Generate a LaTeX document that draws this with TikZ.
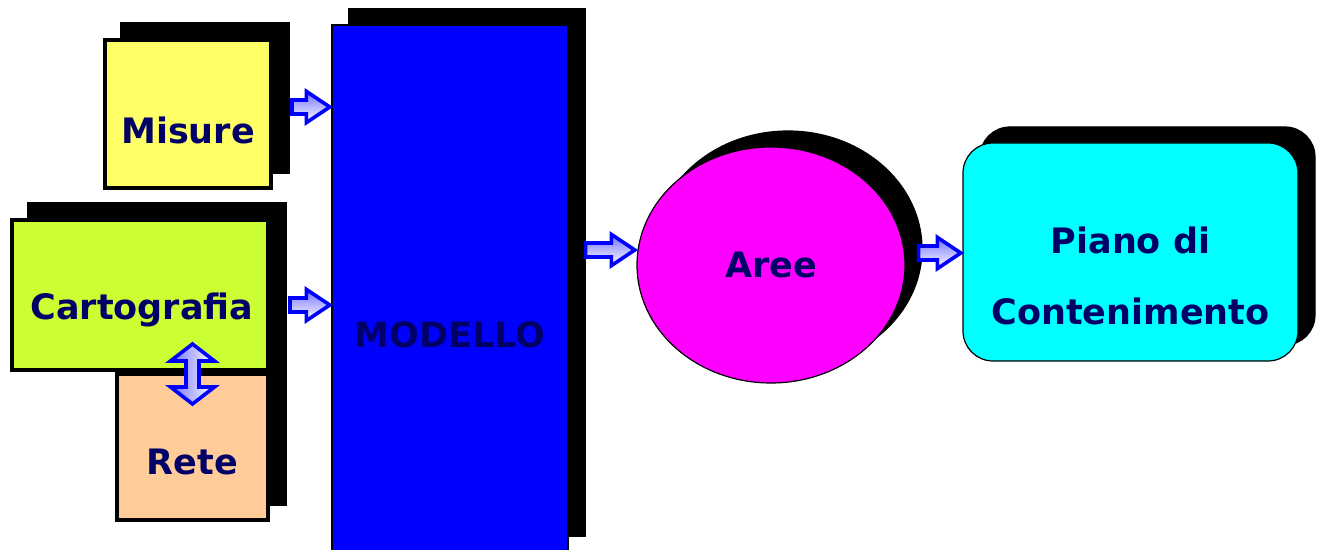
\documentclass[tikz,border=0pt]{standalone}
\usepackage{fontspec}
\setmainfont{DejaVu Sans}
\usetikzlibrary{calc,shadows,shapes.geometric}
\definecolor{cyel}{HTML}{FFFF66}
\definecolor{cgreen}{HTML}{CCFF33}
\definecolor{cpeach}{HTML}{FFCC99}
\definecolor{cblue}{HTML}{0000FF}
\definecolor{cmag}{HTML}{FF00FF}
\definecolor{ccyan}{HTML}{00FFFF}
\definecolor{cnavy}{HTML}{000066}
\tikzset{
  blk/.style={general shadow={fill=black, draw=black, shadow xshift=8.5pt, shadow yshift=8pt}},
  thickbox/.style={draw=black, line width=2pt, blk, inner sep=0pt},
  thinbox/.style={draw=black, line width=0.6pt, blk, inner sep=0pt},
  lbl/.style={text=cnavy, font=\bfseries\fontsize{17.5}{20}\selectfont, inner sep=0pt},
  blockarrow/.style={draw=cblue, line width=1.8pt, line join=miter, top color=cblue!55, bottom color=white},
  vblockarrow/.style={draw=cblue, line width=1.8pt, line join=miter, left color=cblue!55, right color=white}
}
\newcommand\hblock[2]{\path[blockarrow] let \p1=(#1), \p2=(#2) in
  (\x1,\y1+3.5pt) -- (\x2-12.5pt,\y1+3.5pt) -- (\x2-12.5pt,\y1+7.8pt) -- (\x2-0.8pt,\y1)
  -- (\x2-12.5pt,\y1-7.8pt) -- (\x2-12.5pt,\y1-3.5pt) -- (\x1,\y1-3.5pt) -- cycle;}
\newcommand\vblock[2]{\path[vblockarrow] let \p1=(#1), \p2=(#2) in
  (\x1,\y1) -- (\x1+11pt,\y1-8.5pt) -- (\x1+3.25pt,\y1-8.5pt) -- (\x1+3.25pt,\y2+8.5pt)
  -- (\x1+11pt,\y2+8.5pt) -- (\x1,\y2) -- (\x1-11pt,\y2+8.5pt) -- (\x1-3.25pt,\y2+8.5pt)
  -- (\x1-3.25pt,\y1-8.5pt) -- (\x1-11pt,\y1-8.5pt) -- cycle;}
\begin{document}
\begin{tikzpicture}[x=0.5pt,y=-0.5pt]
\useasboundingbox (0,0) rectangle (1319,550);
% boxes
\node[thickbox, fill=cyel, minimum width=83pt, minimum height=74pt] (mis) at (188,114) {};
\node[lbl] (misT) at ($(mis.center)+(0,16)$) {Misure};
\node[thickbox, fill=cpeach, minimum width=75.5pt, minimum height=73pt] (rete) at (192.5,447) {};
\node[lbl] (reteT) at ($(rete.center)+(0,15)$) {Rete};
\node[thickbox, fill=cgreen, minimum width=128pt, minimum height=75pt] (cart) at (140,295) {};
\node[lbl] (cartT) at ($(cart.center)+(2,15)$) {Cartografia};
\node[thinbox, fill=cblue, minimum width=118pt, minimum height=263.5pt] (mod) at (450,288.5) {};
\node[lbl] (modT) at ($(mod.center)+(0,46.5)$) {MODELLO};
\node[thinbox, ellipse, fill=cmag, minimum width=134pt, minimum height=118pt] (aree) at (771,265) {};
\node[lbl] (areeT) at ($(aree.center)+(0,0)$) {Aree};
\node[thinbox, rounded corners=15pt, fill=ccyan, minimum width=167.5pt, minimum height=109pt] (piano) at (1130.5,252) {};
\node[lbl] (pianoT1) at ($(piano.center)+(0,-12)$) {Piano di};
\node[lbl] (pianoT2) at ($(piano.center)+(0,59)$) {Contenimento};
% connectors
\coordinate (a1s) at ($(mis.east)+(19,-7)$);
\coordinate (a2s) at ($(cart.east)+(20,10)$);
\coordinate (a3s) at ($(mod.east)+(17,-38.5)$);
\coordinate (a4s) at ($(aree.east)+(13,-12)$);
\hblock{a1s}{mod.west |- a1s}
\hblock{a2s}{mod.west |- a2s}
\hblock{a3s}{aree.west |- a3s}
\hblock{a4s}{piano.west |- a4s}
\coordinate (dtop) at ($(rete.north)+(0,-28)$);
\coordinate (dbot) at ($(rete.north)+(0,32)$);
\vblock{dtop}{dbot}
\end{tikzpicture}
\end{document}
